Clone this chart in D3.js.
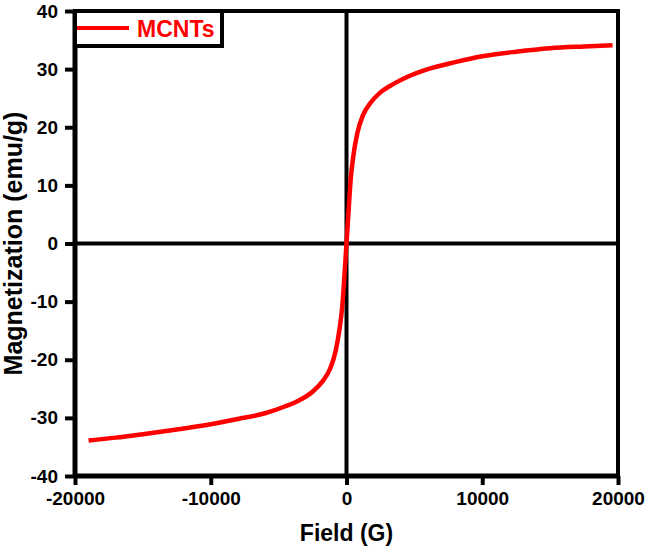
<!DOCTYPE html>
<html>
<head>
<meta charset="utf-8">
<script src="https://cdn.jsdelivr.net/npm/d3@7"></script>
<style>
  html, body { margin: 0; padding: 0; background: #fff; }
  svg { display: block; }
  text { font-family: "Liberation Sans", Arial, sans-serif; font-weight: bold; }
</style>
</head>
<body>
<svg id="chart" width="646" height="553"></svg>
<script>
// ---- data ----
const fieldG = [-19000, -17000, -15000, -12500, -10000, -8000, -6000, -4500, -3500, -2500, -1800, -1200, -800, -500, -300, -150, 0,
                150, 300, 500, 800, 1200, 1800, 2500, 3500, 4500, 6000, 8000, 10000, 12500, 15000, 17500, 19600];
const magnetization = [-33.9, -33.4, -32.8, -32.0, -31.1, -30.2, -29.2, -28.0, -27.0, -25.5, -23.8, -21.5, -18.5, -14.5, -10.5, -5.5, 0,
                       5.5, 10.8, 15.0, 19.0, 22.0, 24.3, 26.0, 27.5, 28.7, 30.0, 31.2, 32.2, 33.0, 33.6, 33.9, 34.1];
const xTicks = [-20000, -10000, 0, 10000, 20000];
const yTicks = [-40, -30, -20, -10, 0, 10, 20, 30, 40];
const seriesName = "MCNTs";
const xTitle = "Field (G)";
const yTitle = "Magnetization (emu/g)";

// ---- layout ----
const svg = d3.select("#chart");
const pLeft = 75, pRight = 618, pTop = 11, pBottom = 476;
const x = d3.scaleLinear().domain([-20000, 20000]).range([pLeft, pRight]);
const y = d3.scaleLinear().domain([-40, 40]).range([pBottom, pTop]);

// frame (top and right)
svg.append("path")
  .attr("d", `M${pLeft},${pTop}H${pRight}V${pBottom}`)
  .attr("fill", "none").attr("stroke", "#000").attr("stroke-width", 4);

// zero lines
svg.append("line").attr("x1", x(0)).attr("x2", x(0)).attr("y1", pTop).attr("y2", pBottom)
  .attr("stroke", "#000").attr("stroke-width", 4);
svg.append("line").attr("x1", pLeft).attr("x2", pRight).attr("y1", y(0)).attr("y2", y(0))
  .attr("stroke", "#000").attr("stroke-width", 4);

// axes
const fmt = d => String(d);
const xAxis = d3.axisBottom(x).tickValues(xTicks).tickFormat(fmt).tickSizeInner(9).tickSizeOuter(0).tickPadding(7);
const yAxis = d3.axisLeft(y).tickValues(yTicks).tickFormat(fmt).tickSizeInner(10).tickSizeOuter(0).tickPadding(7);

const gx = svg.append("g").attr("transform", `translate(0,${pBottom})`).call(xAxis);
const gy = svg.append("g").attr("transform", `translate(${pLeft},0)`).call(yAxis);
[gx, gy].forEach(g => {
  g.select(".domain").attr("stroke", "#000").attr("stroke-width", 5);
  g.selectAll(".tick line").attr("stroke", "#000").attr("stroke-width", 4);
  g.selectAll(".tick text").attr("fill", "#000").style("font-size", "19px")
    .style("font-family", "'Liberation Sans', Arial, sans-serif").style("font-weight", "bold");
});
gx.select(".domain").attr("d", `M${pLeft},0H${pRight}`);
gy.select(".domain").attr("d", `M0,${pTop}V${pBottom}`);

// curve
const line = d3.line().x((d, i) => x(fieldG[i])).y(d => y(d)).curve(d3.curveMonotoneX);
svg.append("path").datum(magnetization)
  .attr("d", line).attr("fill", "none").attr("stroke", "#ff0000")
  .attr("stroke-width", 4.5).attr("stroke-linecap", "butt");

// axis titles
svg.append("text").attr("x", x(0)).attr("y", 541).attr("text-anchor", "middle")
  .style("font-size", "23px").attr("fill", "#000").text(xTitle);
svg.append("text").attr("transform", `translate(22,${(pTop + pBottom) / 2}) rotate(-90)`)
  .attr("text-anchor", "middle").style("font-size", "25px").attr("fill", "#000").text(yTitle);

// legend
const lg = svg.append("g");
lg.append("rect").attr("x", pLeft).attr("y", pTop).attr("width", 147).attr("height", 35)
  .attr("fill", "#fff").attr("stroke", "#000").attr("stroke-width", 4);
lg.append("line").attr("x1", pLeft + 2).attr("x2", pLeft + 54).attr("y1", pTop + 17).attr("y2", pTop + 17)
  .attr("stroke", "#ff0000").attr("stroke-width", 4);
lg.append("text").attr("x", pLeft + 62).attr("y", pTop + 26).style("font-size", "23px")
  .attr("fill", "#ff0000").text(seriesName);
</script>
</body>
</html>
